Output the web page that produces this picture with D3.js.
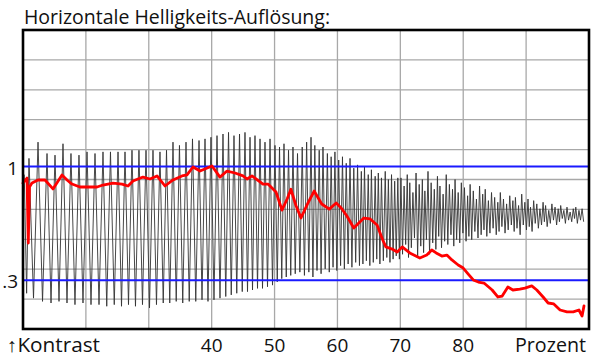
<!DOCTYPE html>
<html>
<head>
<meta charset="utf-8">
<script src="https://cdn.jsdelivr.net/npm/d3@7"></script>
<style>
  html, body { margin: 0; padding: 0; background: #fff; }
  svg { display: block; font-family: "Open Sans", sans-serif; }
</style>
</head>
<body>
<script>
// x = Prozent (10..100), y = Kontrast
const xTicks = [40, 50, 60, 70, 80]
const yTicks = [1, 0.3]
const yTickLabels = ['1', '.3']

// red measured curve
const redX = [10.0, 10.64, 10.84, 11.03, 11.43, 12.39, 13.50, 14.77, 16.20, 17.00, 17.79, 19.06, 20.65, 21.77, 22.72, 24.31, 25.74, 26.70, 27.49, 29.08,
    30.19, 31.31, 32.58, 33.85, 35.28, 36.08, 37.03, 38.15, 40.05, 41.32, 42.44, 43.71, 44.98, 45.62, 46.41, 46.89, 48.16, 48.96, 50.23, 51.18,
    52.0, 52.6, 53.4, 54.2, 55.3, 56.3, 57.5, 58.7, 59.8, 60.6, 61.5, 62.6, 64.2, 65.2, 66.3, 67.2, 67.7, 68.7, 69.5, 70.3,
    71.5, 73.1, 74.2, 75.0, 75.7, 76.6, 77.4, 78.2, 79.2, 80.0, 80.8, 81.6, 82.4, 83.3, 84.6, 85.5, 86.2, 87.1, 87.9, 89.0,
    89.8, 90.9, 91.7, 92.7, 93.5, 94.4, 95.4, 96.5, 97.5, 98.4, 98.9, 99.2]
const redY = [0.898, 0.929, 0.529, 0.874, 0.898, 0.917, 0.917, 0.862, 0.948, 0.917, 0.892, 0.874, 0.874, 0.874, 0.886, 0.898, 0.892, 0.880, 0.911, 0.935,
    0.923, 0.942, 0.880, 0.917, 0.942, 0.948, 0.997, 0.972, 1.003, 0.935, 0.972, 0.960, 0.942, 0.923, 0.942, 0.929, 0.892, 0.892, 0.843, 0.732,
    0.80, 0.86, 0.76, 0.683, 0.775, 0.849, 0.769, 0.738, 0.775, 0.745, 0.695, 0.622, 0.683, 0.677, 0.640, 0.548, 0.505, 0.492, 0.474, 0.505,
    0.468, 0.437, 0.455, 0.486, 0.468, 0.449, 0.455, 0.425, 0.394, 0.375, 0.338, 0.302, 0.289, 0.283, 0.240, 0.197, 0.203, 0.258, 0.240, 0.246,
    0.252, 0.265, 0.240, 0.197, 0.160, 0.154, 0.117, 0.105, 0.105, 0.117, 0.080, 0.142]

// black test signal: one peak + one trough per cycle
const waveX = [10.2, 10.95, 12.39, 13.82, 15.09, 16.36, 17.63, 18.90, 20.18, 21.45, 22.72, 23.91, 25.11, 26.22, 27.33, 28.44, 29.56, 30.67, 31.78, 32.82, 33.85,
    34.88, 35.92, 36.95, 37.99, 38.94, 39.89,
    40.85, 41.80, 42.68, 43.55, 44.43, 45.30, 46.10, 46.89, 47.69, 48.48, 49.28, 50.07, 50.79, 51.50, 52.22, 52.93, 53.65,
    54.4, 55.1, 55.8, 56.4, 57.1, 57.7, 58.4, 59.0, 59.6, 60.2, 60.8, 61.4, 62.0, 62.6, 63.2, 63.8, 64.3, 64.9, 65.4, 66.0,
    66.5, 67.0, 67.6, 68.1, 68.6, 69.1, 69.6,
    70.1, 70.6, 71.1, 71.5, 72.0, 72.5, 73.0, 73.5, 73.9, 74.4, 74.9, 75.4, 75.9, 76.3, 76.8, 77.3, 77.8, 78.3, 78.7, 79.2,
    79.7, 80.2, 80.7, 81.1, 81.6, 82.1, 82.6, 83.1, 83.5, 84.0, 84.5, 85.0, 85.5, 85.9, 86.4, 86.9, 87.4, 87.9, 88.3, 88.8,
    89.3, 89.8, 90.3, 90.7, 91.2, 91.7, 92.2, 92.7, 93.1, 93.6, 94.1, 94.6, 95.1, 95.5, 96.0, 96.5, 97.0, 97.5, 97.9, 98.4, 98.9]
const waveHi = [0.95, 1.05, 1.15, 1.08, 1.07, 1.14, 1.08, 1.07, 1.09, 1.08, 1.09, 1.09, 1.09, 1.09, 1.10, 1.10, 1.10, 1.10, 1.09, 1.10, 1.15,
    1.13, 1.15, 1.17, 1.16, 1.17, 1.18,
    1.19, 1.20, 1.21, 1.19, 1.20, 1.21, 1.18, 1.19, 1.17, 1.15, 1.17, 1.13, 1.12, 1.14, 1.10, 1.12, 1.08,
    1.12, 1.15, 1.18, 1.13, 1.10, 1.12, 1.08, 1.06, 1.09, 1.04, 1.06, 1.02, 1.05, 0.99, 1.01, 0.97, 1.00, 0.95, 0.98, 0.94,
    0.96, 0.93, 0.97, 0.92, 0.95, 0.91, 0.93,
    0.93, 0.88, 0.95, 0.90, 0.84, 0.96, 0.89, 0.92, 0.85, 0.97, 0.90, 0.86, 0.94, 0.88, 0.83, 0.95, 0.89, 0.86, 0.92, 0.84,
    0.90, 0.87, 0.82, 0.89, 0.85, 0.80, 0.88, 0.83, 0.86, 0.79, 0.84, 0.81, 0.78, 0.84, 0.80, 0.77, 0.82, 0.79, 0.81, 0.76,
    0.83, 0.78, 0.80, 0.75, 0.79, 0.77, 0.74, 0.78, 0.76, 0.73, 0.77, 0.75, 0.74, 0.76, 0.73, 0.75, 0.72, 0.74, 0.75, 0.73, 0.74]
const waveLo = [0.22, 0.19, 0.17, 0.16, 0.17, 0.16, 0.15, 0.16, 0.15, 0.15, 0.14, 0.15, 0.14, 0.15, 0.14, 0.15, 0.13, 0.15, 0.16, 0.16, 0.17,
    0.16, 0.17, 0.17, 0.18, 0.17, 0.18,
    0.19, 0.20, 0.21, 0.22, 0.23, 0.23, 0.24, 0.25, 0.25, 0.26, 0.27, 0.29, 0.31, 0.32, 0.33, 0.34, 0.35,
    0.33, 0.35, 0.32, 0.36, 0.34, 0.37, 0.35, 0.38, 0.36, 0.39, 0.37, 0.40, 0.38, 0.41, 0.39, 0.40, 0.42, 0.39, 0.41, 0.43,
    0.40, 0.42, 0.44, 0.41, 0.43, 0.45, 0.43,
    0.46, 0.52, 0.44, 0.50, 0.56, 0.45, 0.51, 0.47, 0.55, 0.46, 0.53, 0.49, 0.57, 0.50, 0.54, 0.52, 0.58, 0.51, 0.55, 0.53,
    0.59, 0.54, 0.57, 0.55, 0.60, 0.56, 0.58, 0.61, 0.57, 0.59, 0.62, 0.58, 0.60, 0.63, 0.59, 0.61, 0.64, 0.60, 0.62, 0.58,
    0.64, 0.61, 0.63, 0.60, 0.65, 0.62, 0.64, 0.66, 0.63, 0.65, 0.67, 0.64, 0.66, 0.68, 0.65, 0.67, 0.66, 0.68, 0.65, 0.67, 0.66]

const width = 600
const height = 364
const frame = {left: 23, right: 589, top: 30, bottom: 329}

const x = d3.scaleLinear().domain([10, 100]).range([frame.left, frame.right])
const y = d3.scaleLinear().domain([0, 1.84]).range([frame.bottom, frame.top])

const svg = d3.select('body').append('svg')
    .attr('width', width)
    .attr('height', height)

svg.append('text')
    .attr('x', 24)
    .attr('y', 24)
    .attr('font-size', 19.5)
    .attr('textLength', 306)
    .attr('lengthAdjust', 'spacingAndGlyphs')
    .attr('fill', '#111')
    .text('Horizontale Helligkeits-Auflösung:')

// grid: 9 columns, 10 rows
const grid = svg.append('g')
    .attr('stroke', '#a8a8a8')
    .attr('stroke-width', 1.3)
grid.selectAll('line.v')
    .data(d3.range(20, 100, 10))
    .join('line')
    .attr('class', 'v')
    .attr('x1', d => x(d)).attr('x2', d => x(d))
    .attr('y1', frame.top).attr('y2', frame.bottom)
grid.selectAll('line.h')
    .data(d3.range(1, 10).map(i => i * 1.84 / 10))
    .join('line')
    .attr('class', 'h')
    .attr('x1', frame.left).attr('x2', frame.right)
    .attr('y1', d => y(d)).attr('y2', d => y(d))

// black signal
const wavePts = waveX.flatMap((xv, i) => {
    const next = i < waveX.length - 1 ? waveX[i + 1] : xv + 0.5
    return [[xv, waveHi[i]], [(xv + next) / 2, waveLo[i]]]
})
svg.append('path')
    .attr('fill', 'none')
    .attr('stroke', '#333')
    .attr('stroke-width', 0.9)
    .attr('d', d3.line().x(d => x(d[0])).y(d => y(d[1]))(wavePts))

// blue reference lines
svg.append('g')
    .selectAll('line')
    .data(yTicks)
    .join('line')
    .attr('x1', frame.left).attr('x2', frame.right)
    .attr('y1', d => y(d)).attr('y2', d => y(d))
    .attr('stroke', '#1a1aff')
    .attr('stroke-width', 2)

// red curve
svg.append('path')
    .attr('fill', 'none')
    .attr('stroke', '#ff0000')
    .attr('stroke-width', 2.8)
    .attr('stroke-linejoin', 'round')
    .attr('stroke-linecap', 'round')
    .attr('d', d3.line().x((d, i) => x(redX[i])).y(d => y(d))(redY))

// frame
svg.append('rect')
    .attr('x', frame.left).attr('y', frame.top)
    .attr('width', frame.right - frame.left)
    .attr('height', frame.bottom - frame.top)
    .attr('fill', 'none')
    .attr('stroke', '#000')
    .attr('stroke-width', 2.6)

// y labels
svg.append('g')
    .selectAll('text')
    .data(yTicks)
    .join('text')
    .attr('x', 18)
    .attr('y', d => y(d) + 8)
    .attr('text-anchor', 'end')
    .attr('font-size', 19)
    .attr('fill', '#111')
    .text((d, i) => yTickLabels[i])

// x labels
svg.append('g')
    .selectAll('text')
    .data(xTicks)
    .join('text')
    .attr('x', d => x(d))
    .attr('y', 352)
    .attr('text-anchor', 'middle')
    .attr('font-size', 19)
    .attr('fill', '#111')
    .text(d => d)

svg.append('text')
    .attr('x', 7)
    .attr('y', 352)
    .attr('font-size', 19.5)
    .attr('textLength', 93)
    .attr('lengthAdjust', 'spacingAndGlyphs')
    .attr('fill', '#111')
    .text('↑Kontrast')

svg.append('text')
    .attr('x', 515)
    .attr('y', 352)
    .attr('font-size', 19.5)
    .attr('textLength', 71)
    .attr('lengthAdjust', 'spacingAndGlyphs')
    .attr('fill', '#111')
    .text('Prozent')
</script>
</body>
</html>
